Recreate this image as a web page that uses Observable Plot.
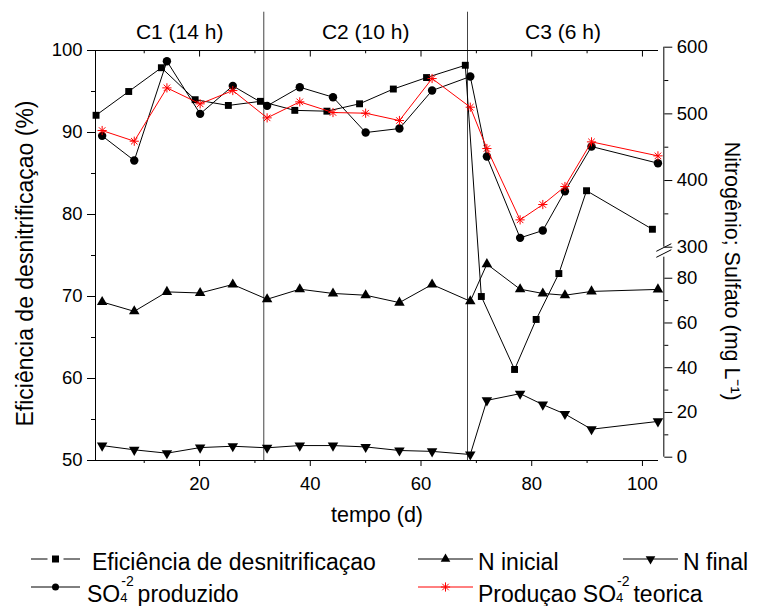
<!DOCTYPE html>
<html>
<head>
<meta charset="utf-8">
<script src="https://cdn.jsdelivr.net/npm/d3@7"></script>
<script src="https://cdn.jsdelivr.net/npm/@observablehq/plot@0.6"></script>
<style>
  body { margin: 0; background: #fff; font-family: "Liberation Sans", Arial, sans-serif; }
  #wrap { position: relative; width: 758px; height: 606px; overflow: hidden; background: #fff; }
  #wrap > svg { position: absolute; left: 0; top: 0; }
  .legtext { position: absolute; font-size: 23px; line-height: 23px; white-space: nowrap; color: #000; }
  .legsym { position: absolute; }
  .ss { position: relative; display: inline-block; width: 11px; height: 1em; }
  .ss .sp { position: absolute; left: 1px; top: -5px; font-size: 14px; line-height: 14px; }
  .ss .sb { position: absolute; left: 0px; top: 12px; font-size: 13px; line-height: 13px; }
</style>
</head>
<body>
<div id="wrap"></div>
<script>
// ---------------- data ----------------
const dayEff = [1.3, 7.2, 13.1, 19.2, 25.2, 31.0, 37.2, 43.0, 48.9, 55.0, 61.0, 68.0, 70.9, 76.9, 80.8, 84.9, 89.9, 101.8];
const eficiencia = [92.1, 95.0, 97.9, 94.0, 93.3, 93.8, 92.7, 92.6, 93.5, 95.3, 96.7, 98.2, 70.0, 61.1, 67.2, 72.8, 82.9, 78.2];

const dayN = [2.4, 8.2, 14.1, 20.1, 26.0, 32.2, 38.1, 44.1, 50.0, 56.1, 62.0, 68.9, 71.9, 77.9, 82.0, 86.0, 90.8, 102.8];
const nInicial = [69.4, 65.2, 73.9, 73.4, 77.2, 70.6, 75.1, 73.2, 72.4, 69.1, 77.2, 69.7, 86.3, 75.1, 73.2, 72.4, 74.1, 75.0];
const nFinal = [5.2, 3.3, 1.8, 4.3, 4.9, 4.2, 5.2, 5.2, 4.6, 3.0, 2.6, 1.2, 25.4, 28.4, 23.5, 19.3, 12.5, 16.0];
const so4Produzido = [467, 430, 579, 500, 542, 512, 540, 525, 472, 478, 535, 556, 436, 314, 325, 384, 451, 426];
const so4Teorica = [475, 459, 539, 515, 535, 494, 518, 502, 501, 490, 553, 510, 448, 341, 364, 391, 458, 437];

const periodLabels = ["C1 (14 h)", "C2 (10 h)", "C3 (6 h)"];
const periodBounds = [31.6, 68.4];

const xMajor = [20, 40, 60, 80, 100];
const xMinor = [10, 30, 50, 70, 90];
const leftMajor = [50, 60, 70, 80, 90, 100];
const leftMinor = [55, 65, 75, 85, 95];
const rightMajor = [0, 20, 40, 60, 80, 300, 400, 500, 600];
const rightMinor = [10, 30, 50, 70, 350, 450, 550];
const rightLower = [0, 89.4];
const rightUpper = [300, 600];

const xTitle = "tempo (d)";
const yTitleLeft = "Eficiência de desnitrificaçao (%)";
const yTitleRight = "Nitrogênio; Sulfato (mg L⁻¹)";

// ---------------- layout ----------------
const W = 758, H = 545;
const X_DOMAIN = [1.2, 102.9];
const X_RANGE = [95, 658];
const X_AXIS_R = 103.86;   // right axis sits a few px right of the frame
const FONT = "'Liberation Sans', Arial, sans-serif";

const effRows = dayEff.map((d, i) => ({d, v: eficiencia[i]}));
const rowsOf = arr => dayN.map((d, i) => ({d, v: arr[i]}));
const nIniRows = rowsOf(nInicial);
const nFinRows = rowsOf(nFinal);
const so4Rows = rowsOf(so4Produzido);
const teoRows = rowsOf(so4Teorica);

const edges = [X_DOMAIN[0], ...periodBounds, X_DOMAIN[1]];
const periodRows = periodLabels.map((t, i) => ({t, x: (edges[i] + edges[i + 1]) / 2}));

const asterisk8 = {
  draw(ctx, size) {
    const r = Math.sqrt(size / Math.PI);
    const q = r * Math.SQRT1_2;
    ctx.moveTo(0, -r); ctx.lineTo(0, r);
    ctx.moveTo(-r, 0); ctx.lineTo(r, 0);
    ctx.moveTo(-q, -q); ctx.lineTo(q, q);
    ctx.moveTo(-q, q); ctx.lineTo(q, -q);
  }
};
const breakSymbol = {
  draw(ctx) {
    ctx.moveTo(-7.5, 0.8); ctx.lineTo(7.5, -6.8);
    ctx.moveTo(-7.5, 6.8); ctx.lineTo(7.5, -0.8);
  }
};

const style = {fontFamily: FONT, fontSize: "18.5px", background: "transparent", color: "black"};
const blank = () => "";

const left = Plot.plot({
  width: W, height: H,
  marginLeft: 95, marginRight: W - 658, marginTop: 50, marginBottom: H - 460,
  style,
  x: {domain: X_DOMAIN, range: X_RANGE},
  y: {domain: [50, 100]},
  marks: [
    Plot.ruleX(periodBounds, {y1: 50, y2: 104.67, stroke: "#444", strokeWidth: 1}),
    Plot.ruleX([X_DOMAIN[0]], {y1: 50, y2: 100, stroke: "black", strokeWidth: 1}),
    Plot.ruleY([50, 100], {stroke: "black", strokeWidth: 1}),
    Plot.axisY(leftMajor, {anchor: "left", tickSize: 8, tickPadding: 5, label: null, fontSize: 18.5}),
    Plot.axisY(leftMinor, {anchor: "left", tickSize: 4, tickFormat: blank, label: null}),
    Plot.axisX(xMajor, {anchor: "bottom", tickSize: 6, tickPadding: 10, label: null, fontSize: 18.5}),
    Plot.axisX(xMinor, {anchor: "bottom", tickSize: 3, tickFormat: blank, label: null}),
    Plot.ruleX(xMajor, {y1: 100, y2: 99.2, stroke: "black", strokeWidth: 1}),
    Plot.ruleX(xMinor, {y1: 100, y2: 99.6, stroke: "black", strokeWidth: 1}),
    Plot.line(effRows, {x: "d", y: "v", stroke: "black", strokeWidth: 1}),
    Plot.dot(effRows, {x: "d", y: "v", symbol: "square", r: 3.9, fill: "black", stroke: null}),
    Plot.text(periodRows, {x: "x", y: 102.23, text: "t", fontSize: 21}),
    Plot.text([xTitle], {frameAnchor: "bottom", dy: 55, textAnchor: "middle", lineAnchor: "middle", fontSize: 21.5}),
    Plot.text([yTitleLeft], {frameAnchor: "left", dx: -70, dy: 8, textAnchor: "middle", lineAnchor: "middle", rotate: -90, fontSize: 23})
  ]
});

const right = Plot.plot({
  width: W, height: H,
  marginLeft: 95, marginRight: W - 663.3, marginTop: 46.7, marginBottom: H - 456.7,
  style,
  x: {domain: X_DOMAIN, range: X_RANGE, axis: null},
  y: {type: "linear", domain: [rightLower[0], rightLower[1], rightUpper[0], rightUpper[1]], range: [456.7, 256.7, 246.7, 46.7]},
  marks: [
    Plot.ruleX([X_AXIS_R], {y1: rightLower[0], y2: rightLower[1], stroke: "black", strokeWidth: 1}),
    Plot.ruleX([X_AXIS_R], {y1: rightUpper[0], y2: rightUpper[1], stroke: "black", strokeWidth: 1}),
    Plot.dot([{x: X_AXIS_R, y: 230}], {x: "x", y: "y", symbol: breakSymbol, fill: "none", stroke: "black", strokeWidth: 1}),
    Plot.axisY(rightMajor, {anchor: "right", tickSize: 8, tickPadding: 5, label: null, fontSize: 18.5}),
    Plot.axisY(rightMinor, {anchor: "right", tickSize: 4, tickFormat: blank, label: null}),
    Plot.line(nIniRows, {x: "d", y: "v", stroke: "black", strokeWidth: 1}),
    Plot.dot(nIniRows, {x: "d", y: "v", symbol: "triangle", r: 3.9, fill: "black", stroke: null}),
    Plot.line(nFinRows, {x: "d", y: "v", stroke: "black", strokeWidth: 1}),
    Plot.dot(nFinRows, {x: "d", y: "v", symbol: "triangle", rotate: 180, r: 3.9, fill: "black", stroke: null}),
    Plot.line(so4Rows, {x: "d", y: "v", stroke: "black", strokeWidth: 1}),
    Plot.dot(so4Rows, {x: "d", y: "v", symbol: "circle", r: 4.2, fill: "black", stroke: null}),
    Plot.line(teoRows, {x: "d", y: "v", stroke: "#ff0000", strokeWidth: 1}),
    Plot.dot(teoRows, {x: "d", y: "v", symbol: asterisk8, r: 4.6, fill: "none", stroke: "#ff0000", strokeWidth: 1}),
    Plot.text([yTitleRight], {frameAnchor: "right", dx: 68, dy: 19, textAnchor: "middle", lineAnchor: "middle", rotate: 90, fontSize: 21.5})
  ]
});

const wrap = document.getElementById("wrap");
wrap.appendChild(left);
wrap.appendChild(right);

// ---------------- legend ----------------
const so4html = 'SO<span class="ss"><span class="sp">-2</span><span class="sb">4</span></span>';
const legendItems = [
  {html: "Eficiência de desnitrificaçao", sym: "square", color: "#000", sx: 31, sw: 49, tx: 92, y: 559, gap: true},
  {html: "N inicial", sym: "tri", color: "#000", sx: 418, sw: 55, tx: 478, y: 559},
  {html: "N final", sym: "tridown", color: "#000", sx: 623, sw: 55, tx: 683, y: 559},
  {html: so4html + " produzido", sym: "circle", color: "#000", sx: 31, sw: 49, tx: 87, y: 587},
  {html: "Produçao " + so4html + " teorica", sym: "ast", color: "#ff0000", sx: 418, sw: 55, tx: 478, y: 587}
];
for (const it of legendItems) {
  const s = d3.create("svg").attr("class", "legsym").attr("width", it.sw).attr("height", 20)
    .style("left", it.sx + "px").style("top", (it.y - 10) + "px");
  const c = it.sw / 2;
  if (it.gap) {
    s.append("line").attr("x1", 0).attr("x2", c - 8).attr("y1", 10).attr("y2", 10).attr("stroke", it.color);
    s.append("line").attr("x1", c + 8).attr("x2", it.sw).attr("y1", 10).attr("y2", 10).attr("stroke", it.color);
  } else {
    s.append("line").attr("x1", 0).attr("x2", it.sw).attr("y1", 10).attr("y2", 10).attr("stroke", it.color);
  }
  const g = s.append("g").attr("transform", `translate(${c},10)`);
  if (it.sym === "square") g.append("rect").attr("x", -3.5).attr("y", -3.5).attr("width", 7).attr("height", 7).attr("fill", it.color);
  if (it.sym === "circle") g.append("circle").attr("r", 3.5).attr("fill", it.color);
  if (it.sym === "tri") g.append("path").attr("d", d3.symbol(d3.symbolTriangle, 40)()).attr("fill", it.color);
  if (it.sym === "tridown") g.append("path").attr("d", d3.symbol(d3.symbolTriangle, 40)()).attr("transform", "rotate(180)").attr("fill", it.color);
  if (it.sym === "ast") {
    const p = d3.path(); asterisk8.draw(p, Math.PI * 4.6 * 4.6);
    g.append("path").attr("d", p.toString()).attr("fill", "none").attr("stroke", it.color);
  }
  wrap.appendChild(s.node());
  const t = document.createElement("div");
  t.className = "legtext";
  t.style.left = it.tx + "px";
  t.style.top = (it.y + 11 - 19.5) + "px";
  t.innerHTML = it.html;
  wrap.appendChild(t);
}
</script>
</body>
</html>
